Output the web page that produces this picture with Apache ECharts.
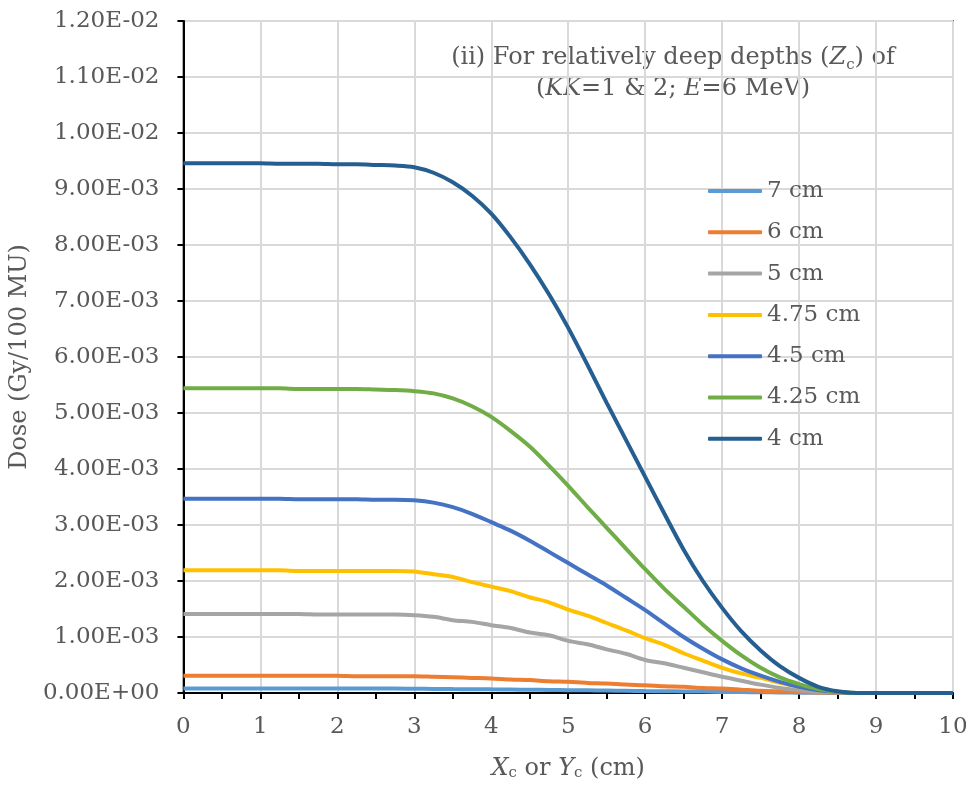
<!DOCTYPE html>
<html>
<head>
<meta charset="utf-8">
<script src="https://cdn.jsdelivr.net/npm/echarts@6/dist/echarts.min.js"></script>
<style>
html,body{margin:0;padding:0;background:#fff;}
#chart{width:972px;height:788px;}
</style>
</head>
<body>
<div id="chart"></div>
<script>
// x positions (cm)
var xs = [0,0.25,0.5,0.75,1,1.25,1.5,1.75,2,2.25,2.5,2.75,3,3.25,3.5,3.75,4,4.25,4.5,4.75,5,5.25,5.5,5.75,6,6.25,6.5,6.75,7,7.25,7.5,7.75,8,8.25,8.5,8.75,9,9.25,9.5,9.75,10];
// dose values in units of 1E-03 Gy/100 MU
var d7   = [0.08,0.08,0.08,0.08,0.08,0.08,0.08,0.08,0.08,0.08,0.08,0.08,0.075,0.073,0.07,0.068,0.065,0.062,0.058,0.055,0.05,0.047,0.044,0.04,0.035,0.032,0.029,0.025,0.02,0.017,0.014,0.01,0.005,0.003,0.001,0,0,0,0,0,0];
var d6   = [0.31,0.31,0.31,0.31,0.31,0.31,0.31,0.31,0.31,0.30,0.30,0.30,0.30,0.29,0.28,0.27,0.26,0.24,0.23,0.21,0.20,0.18,0.17,0.15,0.14,0.12,0.11,0.09,0.08,0.06,0.04,0.03,0.02,0.01,0.005,0,0,0,0,0,0];
var d5   = [1.41,1.41,1.41,1.41,1.41,1.41,1.41,1.40,1.40,1.40,1.40,1.40,1.39,1.36,1.30,1.27,1.21,1.16,1.08,1.03,0.93,0.87,0.78,0.70,0.59,0.53,0.45,0.37,0.29,0.22,0.15,0.09,0.05,0.02,0.01,0,0,0,0,0,0];
var d475 = [2.19,2.19,2.19,2.19,2.19,2.19,2.18,2.18,2.18,2.18,2.18,2.18,2.17,2.12,2.07,1.98,1.90,1.82,1.71,1.62,1.49,1.38,1.25,1.12,0.98,0.86,0.71,0.58,0.45,0.35,0.27,0.18,0.11,0.05,0.02,0,0,0,0,0,0];
var d45  = [3.47,3.47,3.47,3.47,3.47,3.47,3.46,3.46,3.46,3.46,3.45,3.45,3.44,3.40,3.32,3.20,3.05,2.90,2.72,2.52,2.32,2.12,1.92,1.70,1.48,1.24,1.00,0.79,0.60,0.44,0.31,0.20,0.11,0.05,0.02,0,0,0,0,0,0];
var d425 = [5.44,5.44,5.44,5.44,5.44,5.44,5.43,5.43,5.43,5.43,5.42,5.41,5.39,5.35,5.26,5.12,4.93,4.68,4.40,4.06,3.70,3.32,2.95,2.58,2.21,1.86,1.54,1.22,0.93,0.67,0.45,0.28,0.16,0.07,0.02,0,0,0,0,0,0];
var d4   = [9.46,9.46,9.46,9.46,9.46,9.45,9.45,9.45,9.44,9.44,9.43,9.42,9.39,9.29,9.12,8.88,8.56,8.14,7.66,7.12,6.52,5.86,5.18,4.52,3.86,3.20,2.56,2.00,1.52,1.10,0.76,0.48,0.27,0.11,0.03,0,0,0,0,0,0];

var seriesNames = ['7 cm','6 cm','5 cm','4.75 cm','4.5 cm','4.25 cm','4 cm'];
var seriesData = [d7,d6,d5,d475,d45,d425,d4];
var colors = ['#5B9BD5','#ED7D31','#A5A5A5','#FFC000','#4472C4','#70AD47','#255E91'];
var yTickLabels = ['0.00E+00','1.00E-03','2.00E-03','3.00E-03','4.00E-03','5.00E-03','6.00E-03','7.00E-03','8.00E-03','9.00E-03','1.00E-02','1.10E-02','1.20E-02'];

var FONT = 'DejaVu Serif';
var TXT = '#595959';

var chart = echarts.init(document.getElementById('chart'), null, {renderer:'canvas'});

var series = seriesNames.map(function(n, k){
  return {
    name: n,
    type: 'line',
    smooth: 0.3,
    symbol: 'none',
    showSymbol: false,
    lineStyle: {width: 4, color: colors[k]},
    itemStyle: {color: colors[k]},
    data: xs.map(function(x, i){ return [x, seriesData[k][i]]; })
  };
});

var option = {
  backgroundColor: '#fff',
  animation: false,
  grid: {left:181, right:19, top:21, bottom:95, show:true, borderColor:'#000', borderWidth:1.5, backgroundColor:'transparent'},
  legend: {
    orient: 'vertical',
    left: 708, top: 179.5,
    padding: 0,
    icon: 'roundRect',
    itemWidth: 54, itemHeight: 4, itemGap: 18.3,
    data: seriesNames,
    textStyle: {fontFamily: FONT, fontSize: 23, color: TXT, lineHeight: 23}
  },
  xAxis: {
    type: 'value', min: 0, max: 10, interval: 1,
    axisLine: {show:true, onZero:false, lineStyle:{color:'#000', width:2}},
    axisTick: {show:true, inside:false, length:6, lineStyle:{color:'#000', width:2}},
    minorTick: {show:true, splitNumber:2, length:6, lineStyle:{color:'#000', width:2}},
    splitLine: {show:true, lineStyle:{color:'#d9d9d9', width:2}},
    axisLabel: {fontFamily: FONT, fontSize: 23, color: TXT, margin: 23},
    name: '{i|X}{s|c}{n| or }{i|Y}{s|c}{n| (cm)}',
    nameLocation: 'middle', nameGap: 64,
    nameTextStyle: {
      fontFamily: FONT, fontSize: 24, color: TXT,
      rich: {
        n: {fontFamily: FONT, fontSize: 24, color: TXT},
        i: {fontFamily: FONT, fontSize: 24, color: TXT, fontStyle:'italic'},
        s: {fontFamily: FONT, fontSize: 15, color: TXT, verticalAlign:'bottom', padding:[9,0,0,0]}
      }
    }
  },
  yAxis: {
    type: 'value', min: 0, max: 12, interval: 1,
    axisLine: {show:true, lineStyle:{color:'#000', width:2}},
    axisTick: {show:true, inside:false, length:6, lineStyle:{color:'#000', width:2}},
    splitLine: {show:true, lineStyle:{color:'#d9d9d9', width:2}},
    axisLabel: {fontFamily: FONT, fontSize: 23, color: TXT, margin: 24,
      formatter: function(v){ return yTickLabels[Math.round(v)]; }},
    name: 'Dose (Gy/100 MU)',
    nameLocation: 'middle', nameGap: 143,
    nameTextStyle: {fontFamily: FONT, fontSize: 24, color: TXT}
  },
  graphic: [{
    type: 'text',
    x: 673, y: 42,
    style: {
      text: '{n|(ii) For relatively deep depths (}{i|Z}{s|c}{n|) of}\n{n|(}{i|KK}{n|=1 & 2; }{i|E}{n|=6 MeV)}',
      align: 'center',
      fill: TXT,
      font: '24px "DejaVu Serif"',
      lineHeight: 31,
      rich: {
        n: {fontFamily: FONT, fontSize: 24, fill: TXT, lineHeight: 31},
        i: {fontFamily: FONT, fontSize: 24, fill: TXT, fontStyle:'italic', lineHeight: 31},
        s: {fontFamily: FONT, fontSize: 15, fill: TXT, lineHeight: 31, verticalAlign:'bottom', padding:[10,0,0,0]}
      }
    }
  }],
  series: series
};
chart.setOption(option);
</script>
</body>
</html>
